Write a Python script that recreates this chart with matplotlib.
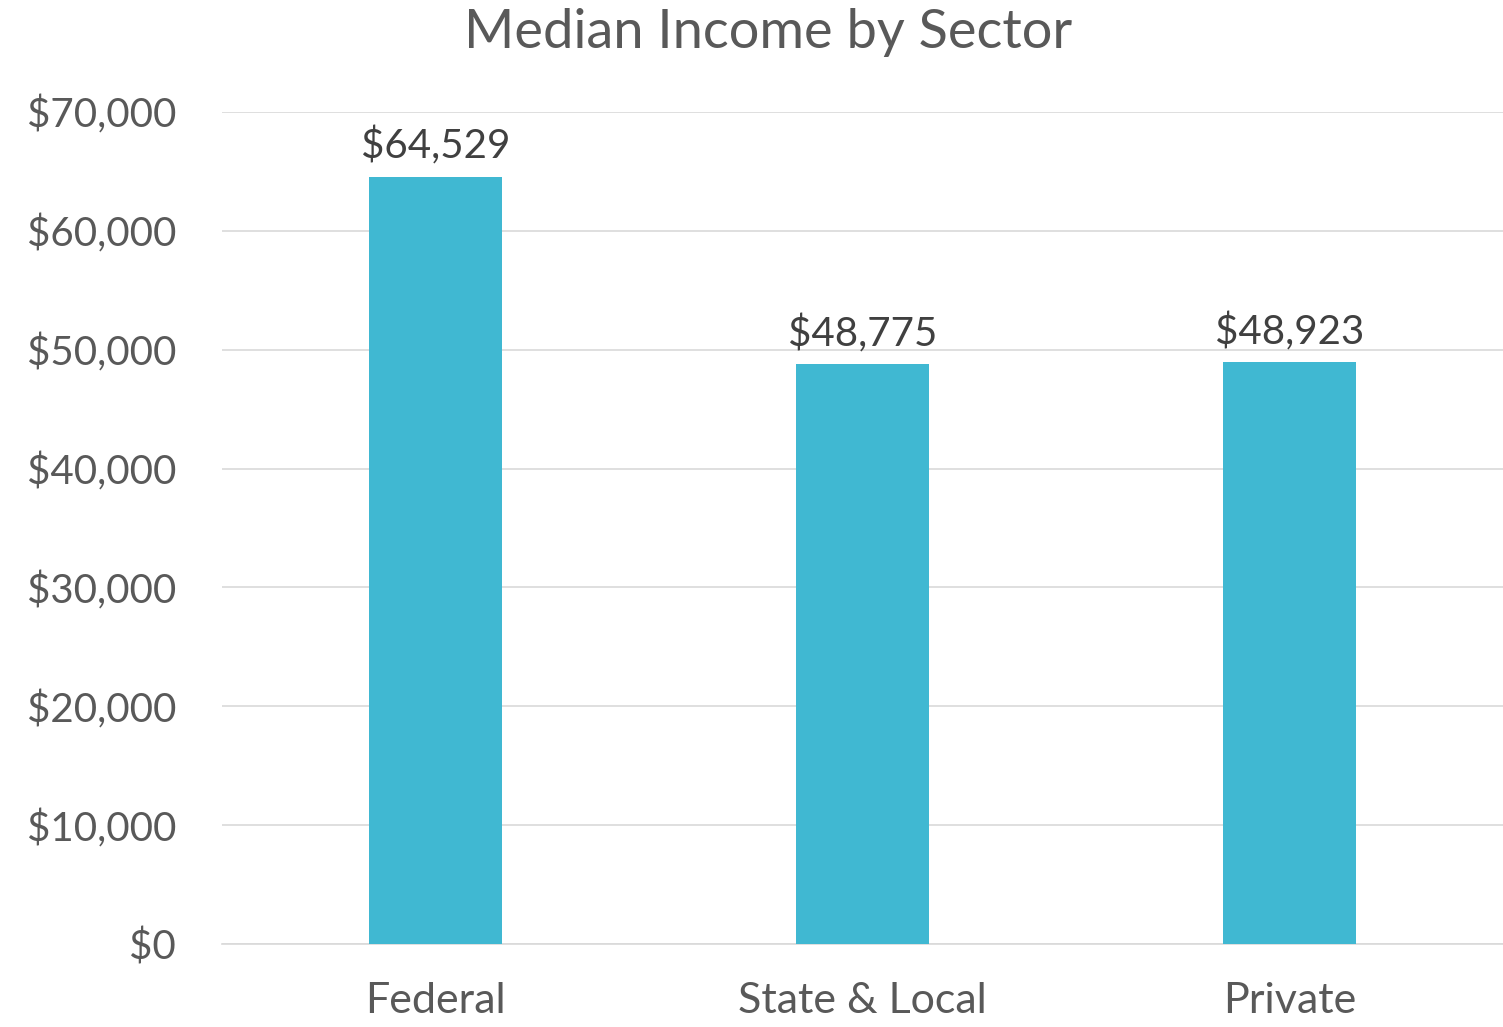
import matplotlib
matplotlib.use("Agg")
import matplotlib.pyplot as plt
from matplotlib.ticker import FuncFormatter

# data
sectors = ["Federal", "State & Local", "Private"]
median_income = [64529, 48775, 48923]
y_ticks = [0, 10000, 20000, 30000, 40000, 50000, 60000, 70000]

bar_color = "#40B8D2"
text_color = "#595959"
label_color = "#404040"

plt.rcParams["font.family"] = ["Lato", "DejaVu Sans"]

fig = plt.figure(figsize=(15.03, 10.27), dpi=100)
ax = fig.add_axes([0.1477, 0.0808, 0.8523, 0.8102])

x = range(len(sectors))
bars = ax.bar(x, median_income, width=0.31, color=bar_color, zorder=3)

for rect, val in zip(bars, median_income):
    ax.annotate(f"${val:,}", (rect.get_x() + rect.get_width() / 2, val),
                xytext=(0, 8), textcoords="offset points",
                ha="center", va="bottom", fontsize=29, color=label_color)

ax.set_xlim(-0.5, 2.5)
ax.set_ylim(0, 70000)
ax.set_yticks(y_ticks)
ax.yaxis.set_major_formatter(FuncFormatter(lambda v, p: f"${v:,.0f}"))
ax.set_xticks(list(x))
ax.set_xticklabels(sectors)

ax.grid(axis="y", color="#D9D9D9", linewidth=1.2, zorder=0)
for s in ["top", "right", "left"]:
    ax.spines[s].set_visible(False)
ax.spines["bottom"].set_color("#D9D9D9")
ax.spines["bottom"].set_linewidth(1.2)
ax.tick_params(axis="both", length=0, colors=text_color)
ax.tick_params(axis="y", labelsize=29, pad=33)
ax.tick_params(axis="x", labelsize=31, pad=27)

fig.text(0.511, 0.968, "Median Income by Sector", ha="center", va="center",
         fontsize=39, color=text_color)

fig.savefig("out.png", dpi=100)
